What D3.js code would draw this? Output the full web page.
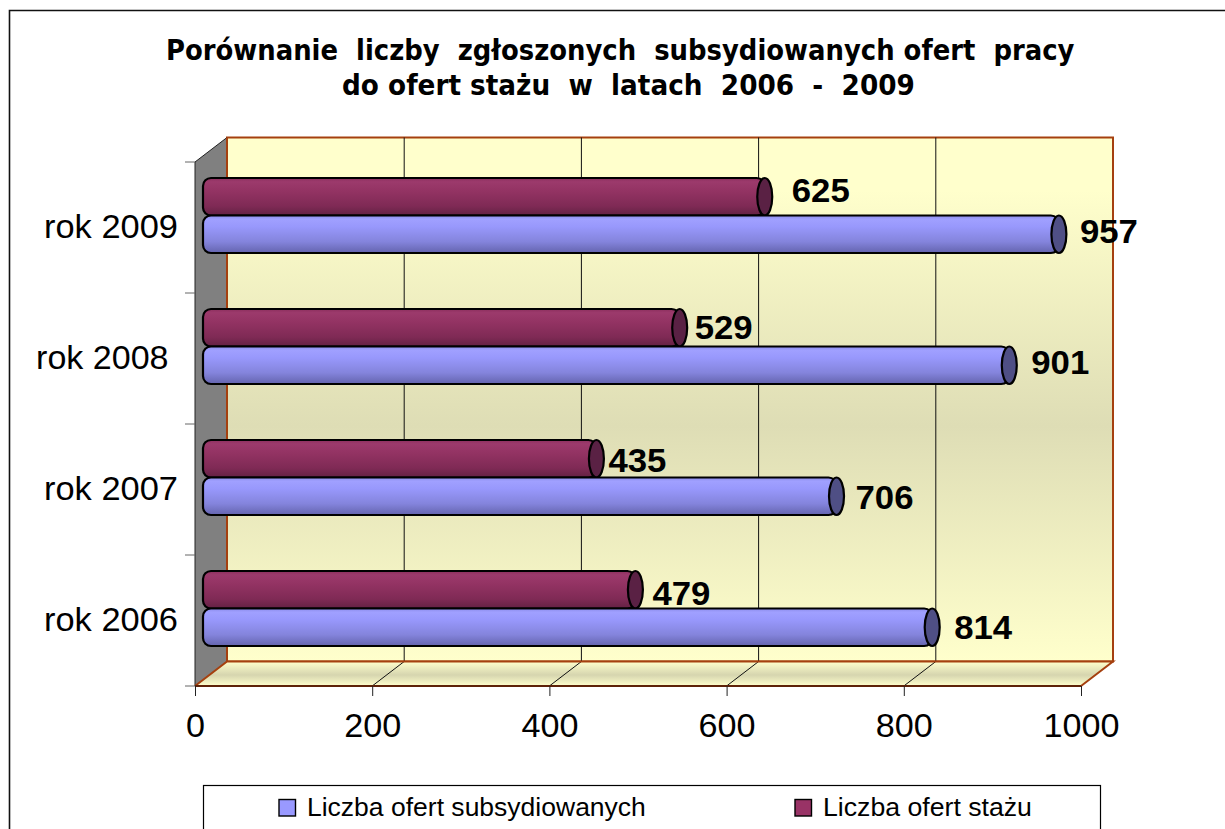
<!DOCTYPE html>
<html>
<head>
<meta charset="utf-8">
<script src="https://cdn.jsdelivr.net/npm/d3@7/dist/d3.min.js"></script>
<style>
html,body{margin:0;padding:0;background:#fff;overflow:hidden}
svg{display:block}
text{white-space:pre}
</style>
</head>
<body>
<script>
const titleLines = ["Porównanie  liczby  zgłoszonych  subsydiowanych ofert  pracy", "do ofert stażu  w  latach  2006  -  2009"];
const categories = ["rok 2009", "rok 2008 ", "rok 2007", "rok 2006"];
const seriesNames = ["Liczba ofert subsydiowanych", "Liczba ofert stażu"];
const subsydiowane = [957, 901, 706, 814];
const staz = [625, 529, 435, 479];
const xTicks = [0, 200, 400, 600, 800, 1000];
// manual label nudges (as placed by hand in the original)
const subLabelNudgeX = [21, 22, 19, 22];
const subLabelNudgeY = [-3, -3, 1, 0];
const stazLabelNudgeX = [27, 15, 12, 17];
const stazLabelNudgeY = [-7, -1, 1, 3];

const W = 1225, H = 829;
const svg = d3.select("body").append("svg").attr("width", W).attr("height", H)
  .style("font-family", "'Liberation Sans', Arial, sans-serif");

function fit(node, width) {
  const natural = node.getComputedTextLength();
  const px = +node.getAttribute("x") || 0;
  const k = width / natural;
  node.setAttribute("transform", `translate(${px},0) scale(${k},1) translate(${-px},0)`);
}

const x = d3.scaleLinear().domain([0, 1000]).range([195, 1081]);
const y = d3.scaleBand().domain(categories).range([162, 686]);
const sub = d3.scaleBand().domain(["staz", "sub"]).range([-37.5, 37.5]);
const depthX = 32, depthY = -24.5;
const barDX = 16, barDY = -12;
const frontBottom = y.range()[1], frontTop = y.range()[0];

const defs = svg.append("defs");
function grad(id, stops) {
  const g = defs.append("linearGradient").attr("id", id).attr("x1", 0).attr("x2", 0).attr("y1", 0).attr("y2", 1);
  stops.forEach(s => g.append("stop").attr("offset", s[0]).attr("stop-color", s[1]));
}
grad("wall", [[0, "#FFFFCC"], [0.1, "#FFFFCC"], [0.55, "#DEDDB5"], [1, "#FFFFCC"]]);
grad("floor", [[0, "#FFFFCC"], [0.55, "#D6D5AF"], [1, "#FFFFCC"]]);
grad("blue", [[0, "#8C8CEA"], [0.1, "#A0A0FF"], [0.3, "#9898FC"], [0.7, "#8484DC"], [1, "#6464AE"]]);
grad("maroon", [[0, "#8C2F5E"], [0.1, "#9C3A6C"], [0.35, "#933363"], [0.75, "#7F2A55"], [1, "#632143"]]);

svg.append("path").attr("d", `M9.5,${H + 5}V10.5H${W + 5}`).attr("fill", "none").attr("stroke", "#111").attr("stroke-width", 1.6);

svg.append("g").selectAll("text").data(titleLines).join("text")
  .attr("x", (d, i) => i ? 342 : 166)
  .attr("y", (d, i) => i ? 95.5 : 60.5)
  .style("font-family", "'DejaVu Sans', Verdana, sans-serif")
  .style("font-weight", "bold").style("font-size", "27.5px").attr("fill", "#000")
  .text(d => d)
  .each(function (d, i) { fit(this, i ? 573 : 909); });

const backL = x(0) + depthX, backR = x(1000) + depthX, backT = frontTop + depthY, backB = frontBottom + depthY;
svg.append("rect").attr("x", backL).attr("y", backT).attr("width", backR - backL).attr("height", backB - backT)
  .attr("fill", "url(#wall)").attr("stroke", "#A5400F").attr("stroke-width", 2);
svg.append("path").attr("d", `M${x(0)},${frontBottom}L${backL},${backB}H${backR}L${x(1000)},${frontBottom}Z`)
  .attr("fill", "url(#floor)");
svg.append("path").attr("d", `M${x(0)},${frontTop}L${backL},${backT}V${backB}L${x(0)},${frontBottom}Z`).attr("fill", "#808080");
svg.append("path").attr("d", `M${x(0)},${frontBottom}V${frontTop}L${backL},${backT}`).attr("fill", "none").attr("stroke", "#222").attr("stroke-width", 1);
svg.append("g").selectAll("line").data(xTicks.slice(1, -1)).join("line")
  .attr("x1", d => x(d) + depthX).attr("x2", d => x(d) + depthX).attr("y1", backT).attr("y2", backB)
  .attr("stroke", "#111").attr("stroke-width", 1);
svg.append("g").selectAll("path").data(xTicks.slice(1, -1)).join("path")
  .attr("d", d => `M${x(d)},${frontBottom}L${x(d) + depthX},${backB}`)
  .attr("stroke", "#111").attr("fill", "none").attr("stroke-width", 1);
svg.append("path").attr("d", `M${x(0)},${frontBottom}L${backL},${backB}H${backR}L${x(1000)},${frontBottom}`)
  .attr("fill", "none").attr("stroke", "#A5400F").attr("stroke-width", 2);
svg.append("line").attr("x1", x(0)).attr("x2", x(1000)).attr("y1", frontBottom).attr("y2", frontBottom)
  .attr("stroke", "#5E2208").attr("stroke-width", 2);
svg.append("line").attr("x1", backL).attr("x2", backL).attr("y1", backT).attr("y2", backB)
  .attr("stroke", "#A5400F").attr("stroke-width", 2);

const axisX = d3.axisBottom(x).tickValues(xTicks).tickSize(10).tickSizeOuter(0).tickPadding(18).tickFormat(d3.format("d"));
const gx = svg.append("g").attr("transform", `translate(0,${frontBottom})`).call(axisX);
gx.select(".domain").remove();
gx.selectAll(".tick line").attr("stroke", "#222");
gx.selectAll(".tick text").attr("fill", "#000").style("font-size", "33px")
  .each(function (d) { fit(this, String(d).length * 19); });

const yEdges = categories.map(c => y(c)).concat([frontBottom]);
svg.append("g").selectAll("line").data(yEdges).join("line")
  .attr("x1", x(0) - 10).attr("x2", x(0)).attr("y1", d => d).attr("y2", d => d)
  .attr("stroke", "#666").attr("stroke-width", 1);

svg.append("g").selectAll("text").data(categories).join("text")
  .attr("x", 178).attr("y", d => y(d) + y.bandwidth() / 2 + 11)
  .attr("text-anchor", "end").style("font-size", "33px").attr("fill", "#000")
  .text(d => d)
  .each(function (d) { fit(this, d.endsWith(" ") ? 142 : 134); });

const rows = categories.flatMap((c, i) => [
  { cat: c, key: "staz", v: staz[i], fill: "url(#maroon)", cap: "#5A2144", nx: stazLabelNudgeX[i], ny: stazLabelNudgeY[i] },
  { cat: c, key: "sub", v: subsydiowane[i], fill: "url(#blue)", cap: "#4F4F85", nx: subLabelNudgeX[i], ny: subLabelNudgeY[i] }
]);
const rowTop = d => y(d.cat) + y.bandwidth() / 2 + barDY + sub(d.key);
const rowH = sub.bandwidth();
const barG = svg.append("g").selectAll("g").data(rows).join("g");
barG.append("rect")
  .attr("x", x(0) + barDX - 8).attr("y", rowTop)
  .attr("width", d => x(d.v) - x(0) + 8).attr("height", rowH)
  .attr("rx", 8).attr("ry", 8)
  .attr("fill", d => d.fill).attr("stroke", "#000").attr("stroke-width", 2.2);
barG.append("ellipse")
  .attr("cx", d => x(d.v) + barDX).attr("cy", d => rowTop(d) + rowH / 2)
  .attr("rx", 7.5).attr("ry", rowH / 2)
  .attr("fill", d => d.cap).attr("stroke", "#000").attr("stroke-width", 2.2);

svg.append("g").selectAll("text").data(rows).join("text")
  .attr("x", d => x(d.v) + barDX + d.nx)
  .attr("y", d => rowTop(d) + rowH / 2 + 12 + d.ny)
  .style("font-size", "33.5px").style("font-weight", "bold").attr("fill", "#000")
  .text(d => d.v)
  .each(function () { fit(this, 58); });

const legY = 785, legB = H + 5;
svg.append("rect").attr("x", 203.5).attr("y", legY + .5).attr("width", 897).attr("height", legB - legY)
  .attr("fill", "#fff").attr("stroke", "#000").attr("stroke-width", 1.2);
const legX = [279, 795], legColors = ["#9999FF", "#993366"], legLen = [339, 209];
const lg = svg.append("g").selectAll("g").data(seriesNames).join("g");
lg.append("rect").attr("x", (d, i) => legX[i]).attr("y", 799.5).attr("width", 16.5).attr("height", 16.5)
  .attr("fill", (d, i) => legColors[i]).attr("stroke", "#000").attr("stroke-width", 1.4);
lg.append("text").attr("x", (d, i) => legX[i] + 28).attr("y", 816.5)
  .style("font-size", "26px").attr("fill", "#000")
  .text(d => d)
  .each(function (d, i) { fit(this, legLen[i]); });
</script>
</body>
</html>
